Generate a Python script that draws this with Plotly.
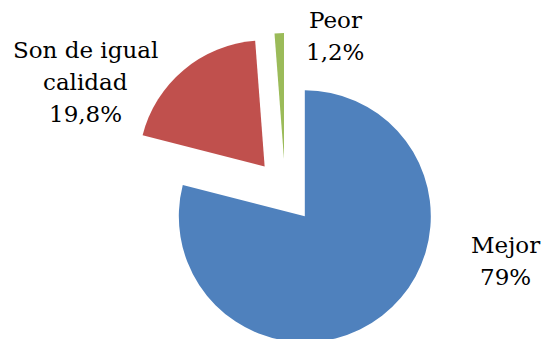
import plotly.graph_objects as go

# ---- data ----
labels = ["Mejor", "Son de igual calidad", "Peor"]
values = [79.0, 19.8, 1.2]
value_text = ["79%", "19,8%", "1,2%"]
label_lines = [["Mejor"], ["Son de igual", "calidad"], ["Peor"]]
colors = ["#4F81BD", "#C0504D", "#9BBB59"]
explode = [0.254, 0.254, 0.254]

# ---- layout geometry (pixels) ----
W, H = 543, 360
pie_cx, pie_cy, pie_box = 285.2, 191.0, 316.0
label_anchor = [(505, 245), (85, 50), (335, 20)]  # centre x, first-line centre y
line_h = 32
font = dict(family="DejaVu Serif", size=23, color="black")


def px_x(x):
    return x / W


def px_y(y):
    return 1 - y / H


fig = go.Figure(
    go.Pie(
        labels=labels,
        values=values,
        sort=False,
        direction="clockwise",
        rotation=0,
        pull=explode,
        marker=dict(colors=colors, line=dict(color="white", width=0)),
        textinfo="none",
        hoverinfo="label+percent",
        showlegend=False,
        domain=dict(
            x=[px_x(pie_cx - pie_box / 2), px_x(pie_cx + pie_box / 2)],
            y=[px_y(pie_cy + pie_box / 2), px_y(pie_cy - pie_box / 2)],
        ),
    )
)

annotations = []
for lines, vt, (ax, ay) in zip(label_lines, value_text, label_anchor):
    for i, t in enumerate(lines + [vt]):
        annotations.append(
            dict(
                text=t,
                x=px_x(ax),
                y=px_y(ay + i * line_h),
                xref="paper",
                yref="paper",
                xanchor="center",
                yanchor="middle",
                showarrow=False,
                font=font,
            )
        )

fig.update_layout(
    width=W,
    height=H,
    margin=dict(l=0, r=0, t=0, b=0),
    paper_bgcolor="white",
    plot_bgcolor="white",
    font=font,
    annotations=annotations,
)

fig.write_html(
    "out.html",
    config={"displayModeBar": False},
    post_script=(
        "document.body.style.margin='0';"
        "document.documentElement.style.overflow='hidden';"
        "document.body.style.overflow='hidden';"
    ),
)
